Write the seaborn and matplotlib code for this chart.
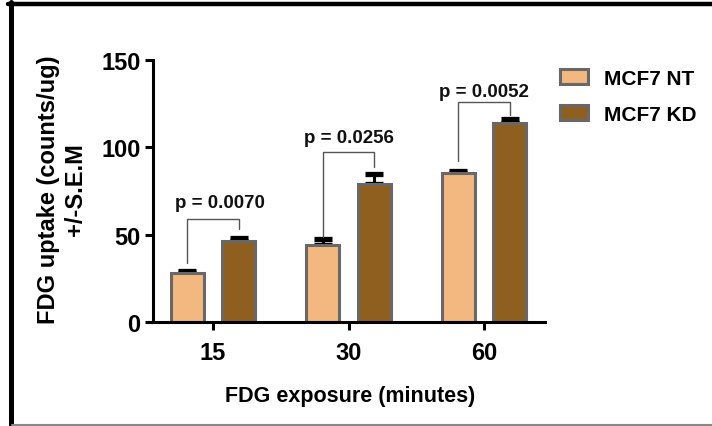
import matplotlib
matplotlib.use("Agg")
import matplotlib.pyplot as plt
from matplotlib.lines import Line2D
import seaborn as sns
import pandas as pd

# ---- data ----
times = ["15", "30", "60"]
groups = ["MCF7 NT", "MCF7 KD"]
nt_mean = [27.9, 44.0, 85.2]
kd_mean = [46.2, 79.0, 113.8]
nt_sem = [1.4, 3.5, 1.4]
kd_sem = [1.8, 5.5, 2.2]
p_labels = ["p = 0.0070", "p = 0.0256", "p = 0.0052"]
# bracket heights: (left foot, top, right foot)
bracket_left = [33.8, 48.6, 92.3]
bracket_top = [58.8, 97.1, 125.7]
bracket_right = [53.2, 88.8, 118.4]
p_text_y = [65.8, 103.0, 129.1]
y_ticks = [0, 50, 100, 150]

colors = ["#F2B880", "#8F5F20"]
edge = "#686868"

df = pd.DataFrame({
    "time": times * 2,
    "group": [groups[0]] * 3 + [groups[1]] * 3,
    "value": nt_mean + kd_mean,
})

sns.set_theme(style="white")
plt.rcParams['font.family'] = ['Liberation Sans', 'DejaVu Sans']
plt.rcParams['font.weight'] = 'bold'
plt.rcParams['text.color'] = 'black'

fig = plt.figure(figsize=(7.12, 4.27), dpi=100)
ax = fig.add_axes([153 / 712, 1 - 323 / 427, (545 - 153) / 712, (323 - 60.7) / 427])

sns.barplot(data=df, x="time", y="value", hue="group", order=times,
            hue_order=groups, palette=colors, width=0.76, gap=0.36,
            errorbar=None, edgecolor=edge, linewidth=2.2, ax=ax, legend=True,
            saturation=1)

sems = [nt_sem, kd_sem]
bar_conts = list(ax.containers)
centers = {}
for gi, cont in enumerate(bar_conts):
    xs = [p.get_x() + p.get_width() / 2 for p in cont.patches]
    hs = [p.get_height() for p in cont.patches]
    centers[gi] = xs
    ax.errorbar(xs, hs, yerr=[[0] * len(hs), sems[gi]], fmt="none",
                ecolor="black", elinewidth=2.2, capsize=6.3, capthick=3.8,
                zorder=0.9)

for i in range(len(times)):
    xl = centers[0][i]
    xr = centers[1][i]
    ax.plot([xl, xl, xr, xr],
            [bracket_left[i], bracket_top[i], bracket_top[i], bracket_right[i]],
            color="#555555", lw=1.0, zorder=3)
    xc = (xl + xr) / 2 + (0.05 if i == 0 else 0.0)
    ax.text(xc, p_text_y[i], p_labels[i], ha="center", va="baseline",
            fontsize=13.5, fontweight="bold", color="#111111")

ax.set_ylim(0, 150)
ax.set_xlim(-0.443, 2.45)
ax.set_yticks(y_ticks)
ax.set_yticklabels([str(t) for t in y_ticks])
ax.set_xlabel("")
ax.set_ylabel("")
for s in ["top", "right"]:
    ax.spines[s].set_visible(False)
for s in ["left", "bottom"]:
    ax.spines[s].set_linewidth(2.2)
    ax.spines[s].set_color("black")
ax.tick_params(axis="both", which="both", direction="out", length=6,
               width=2.2, color="black", labelsize=17, labelcolor="black")
ax.tick_params(axis="y", pad=3)
ax.tick_params(axis="x", pad=8)
ax.tick_params(left=True, bottom=True)
for lab in ax.get_xticklabels() + ax.get_yticklabels():
    lab.set_fontweight("bold")

# legend
handles, labels = ax.get_legend_handles_labels()
ax.legend_.remove()
leg = fig.legend(handles, labels, loc="upper left",
                 bbox_to_anchor=(560 / 712, 1 - 70 / 427),
                 frameon=False, prop={"weight": "bold", "size": 15},
                 handlelength=1.35, handleheight=0.7, handletextpad=0.75,
                 labelspacing=0.8, borderaxespad=0, borderpad=0,
                 labelcolor="black")
for h in leg.legend_handles:
    h.set_edgecolor(edge)
    h.set_linewidth(2.2)

fig.text(350 / 712, 1 - 397 / 427, "FDG exposure (minutes)", ha="center",
         va="center", fontsize=15.5, fontweight="bold", color="black")
fig.text(62 / 712, 1 - 190 / 427, "FDG uptake (counts/ug)\n+/-S.E.M",
         ha="center", va="center", rotation=90, fontsize=17,
         fontweight="bold", color="black", linespacing=1.25,
         multialignment="center")

# frame around figure
fig.add_artist(Line2D([8 / 712, 1], [1 - 5 / 427, 1 - 5 / 427],
                      transform=fig.transFigure, color="black", lw=3.2))
fig.add_artist(Line2D([10.5 / 712, 10.5 / 712], [1 - 3 / 427, 1 - 426 / 427],
                      transform=fig.transFigure, color="black", lw=3.6))
fig.add_artist(Line2D([12 / 712, 1], [1 - 425.8 / 427, 1 - 425.8 / 427],
                      transform=fig.transFigure, color="#888888", lw=1.5))

fig.savefig("out.png", dpi=100)
